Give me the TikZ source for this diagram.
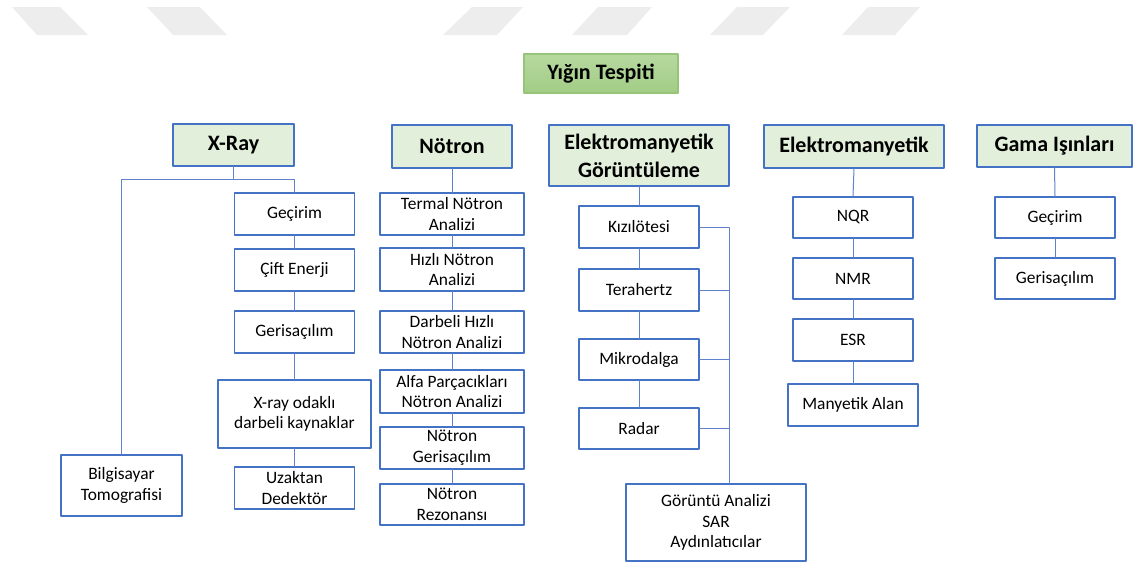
\documentclass[tikz,border=0pt]{standalone}
\usepackage{fontspec}
\setmainfont{Carlito}
\definecolor{treeBoxColor}{RGB}{68,114,196}
\definecolor{treeLineColor}{RGB}{96,130,204}
\definecolor{treeHeadFill}{RGB}{226,239,218}
\definecolor{treeRootTop}{RGB}{183,217,160}
\definecolor{treeRootBottom}{RGB}{162,204,134}
\definecolor{treeRootBorder}{RGB}{150,196,120}
\definecolor{treeMarkColor}{RGB}{237,237,237}
\begin{document}
\begin{tikzpicture}
% Detection tree, positions in pixels of the source figure
\def\pxsz{1pt}
\providecommand{\treeFont}{\fontsize{17.4}{20.7}\selectfont}
\providecommand{\treeHeadFont}{\fontsize{22}{28}\selectfont\bfseries}
\begin{scope}[x=\pxsz, y=-\pxsz, line cap=round, line join=round,
  tbox/.style={draw=treeBoxColor, line width=1.1pt, fill=white, align=center,
    inner sep=2pt, minimum width=120, minimum height=42, font=\treeFont},
  thead/.style={tbox, fill=treeHeadFill, font=\treeHeadFont},
  troot/.style={draw=treeRootBorder, line width=1.1pt, top color=treeRootTop,
    bottom color=treeRootBottom, minimum width=154, minimum height=39,
    inner sep=2pt, font=\treeHeadFont},
  tline/.style={draw=treeLineColor, line width=1pt}]
  \useasboundingbox (0,0) rectangle (1134,562);
  % Faded page marks at the top
  \begin{scope}[fill=treeMarkColor]
    \fill (12,7) -- (60,7) -- (88,35) -- (37,35) -- cycle;
    \fill (147,7) -- (200,7) -- (227,35) -- (173,35) -- cycle;
    \fill (472,7) -- (523,7) -- (497,35) -- (443,35) -- cycle;
    \fill (598,7) -- (652,7) -- (627,35) -- (572,35) -- cycle;
    \fill (737,7) -- (790,7) -- (763,35) -- (710,35) -- cycle;
    \fill (868,7) -- (920,7) -- (895,35) -- (842,35) -- cycle;
  \end{scope}
  % Root
  \node[troot] (root) at (601,73.5) {Yığın Tespiti};
  % Headers
  \node[thead, minimum width=121] (hX) at (233.5,145) {X-Ray};
  \node[thead, minimum height=43] (hN) at (452,146.5) {Nötron};
  \node[thead, minimum width=180, minimum height=61] (hEG) at (639,155.5) {Elektromanyetik\\Görüntüleme};
  \node[thead, minimum width=180, minimum height=43] (hE) at (854,146.5) {Elektromanyetik};
  \node[thead, minimum width=155] (hG) at (1054.5,146) {Gama Işınları};
  % X-Ray column
  \node[tbox] (xGe) at (294.5,214) {Geçirim};
  \node[tbox] (xCi) at (294.5,270) {Çift Enerji};
  \node[tbox] (xGr) at (294.5,332) {Gerisaçılım};
  \node[tbox, minimum width=153, minimum height=68] (xOd) at (294.5,414) {X-ray odaklı\\darbeli kaynaklar};
  \node[tbox] (xUz) at (294.5,488) {Uzaktan\\Dedektör};
  \node[tbox, minimum width=121, minimum height=61] (xBT) at (121.5,485.5) {Bilgisayar\\Tomografisi};
  % Neutron column
  \node[tbox, minimum width=144] (nTe) at (452,214) {Termal Nötron\\Analizi};
  \node[tbox, minimum width=144, minimum height=43] (nHi) at (452,269.5) {Hızlı Nötron\\Analizi};
  \node[tbox, minimum width=144] (nDa) at (452,332) {Darbeli Hızlı\\Nötron Analizi};
  \node[tbox, minimum width=144, minimum height=43] (nAl) at (452,391.5) {Alfa Parçacıkları\\Nötron Analizi};
  \node[tbox, minimum width=144] (nGe) at (452,448) {Nötron\\Gerisaçılım};
  \node[tbox, minimum width=144, minimum height=41] (nRe) at (452,504.5) {Nötron\\Rezonansı};
  % Imaging column
  \node[tbox] (eKi) at (639,227) {Kızılötesi};
  \node[tbox] (eTe) at (639,290) {Terahertz};
  \node[tbox, minimum height=41] (eMi) at (639,359.5) {Mikrodalga};
  \node[tbox, minimum height=41] (eRa) at (639,428.5) {Radar};
  \node[tbox, minimum width=180, minimum height=77] (eGo) at (716,522.5) {Görüntü Analizi\\SAR\\Aydınlatıcılar};
  % Electromagnetic column
  \node[tbox, minimum height=41] (mNQ) at (853,217.5) {NQR};
  \node[tbox, minimum height=41] (mNM) at (853,278.5) {NMR};
  \node[tbox] (mES) at (853,340) {ESR};
  \node[tbox, minimum width=130] (mMA) at (853,405) {Manyetik Alan};
  % Gamma column
  \node[tbox, minimum height=41] (gGe) at (1055,217.5) {Geçirim};
  \node[tbox, minimum height=41] (gGr) at (1055,278.5) {Gerisaçılım};
  % Connectors
  \coordinate (xFork) at (233.5,179);
  \draw[tline] (hX.south) -- (xFork);
  \draw[tline] (xFork) -| (xBT.north);
  \draw[tline] (xFork) -| (xGe.north);
  \foreach \a/\b in {xGe/xCi, xCi/xGr, xGr/xOd, xOd/xUz,
                     hN/nTe, nTe/nHi, nHi/nDa, nDa/nAl, nAl/nGe, nGe/nRe,
                     hEG/eKi, eKi/eTe, eTe/eMi, eMi/eRa,
                     hE/mNQ, mNQ/mNM, mNM/mES, mES/mMA,
                     hG/gGe, gGe/gGr}
    \draw[tline] (\a.south) -- (\b.north);
  % Imaging bus on the right
  \coordinate (eBus) at (729,227);
  \draw[tline] (eKi.east) -- (eBus) -- (eGo.north -| eBus);
  \foreach \a in {eTe, eMi, eRa}
    \draw[tline] (\a.east) -- (\a.east -| eBus);
\end{scope}
\end{tikzpicture}
\end{document}
